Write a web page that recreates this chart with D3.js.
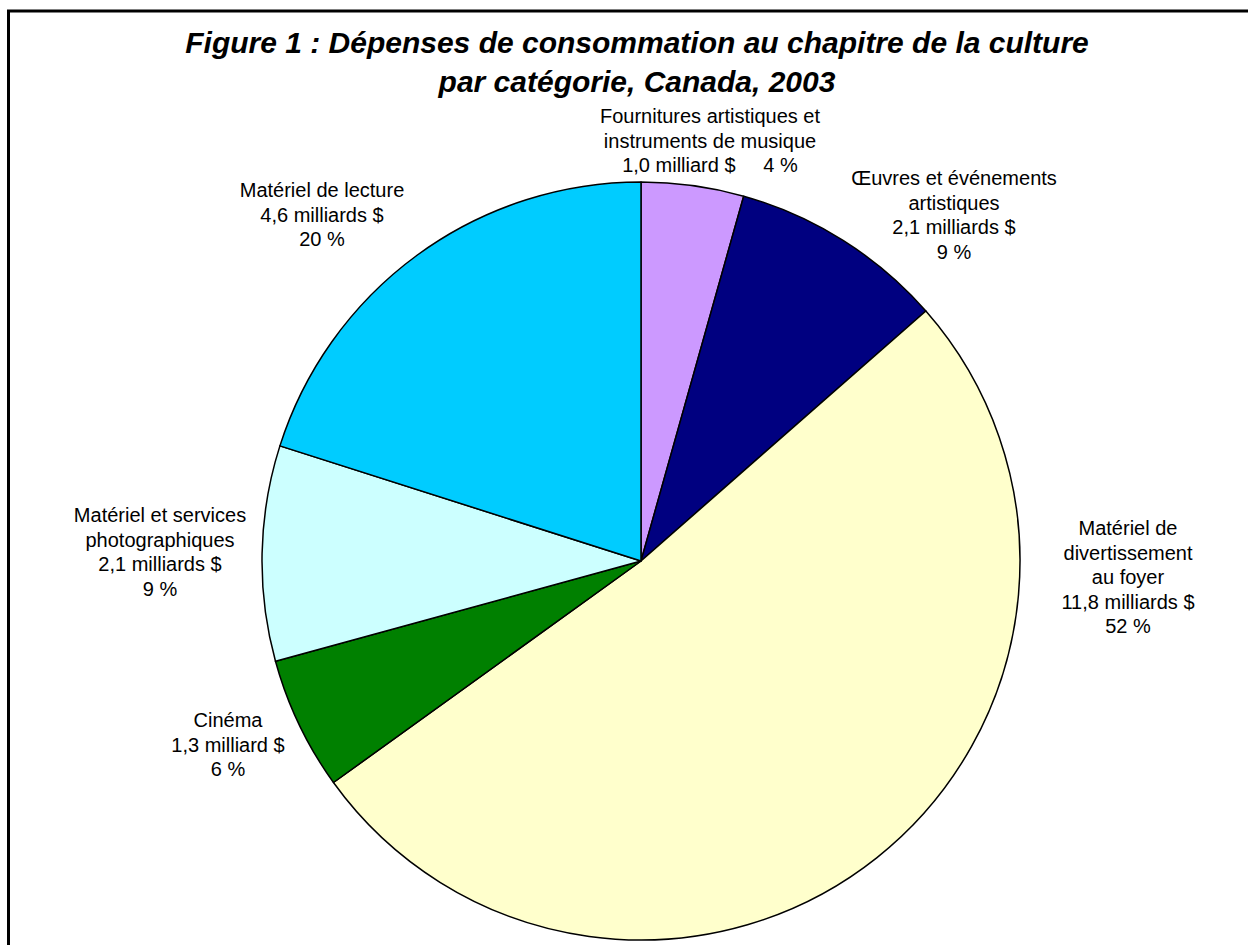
<!DOCTYPE html>
<html>
<head>
<meta charset="utf-8">
<script src="https://cdn.jsdelivr.net/npm/d3@7"></script>
<style>
  body { margin: 0; background: #fff; }
  text { font-family: "Liberation Sans", Arial, sans-serif; fill: #000; }
</style>
</head>
<body>
<div id="chart"></div>
<script>
// data (billions of dollars)
var categories = [
  ["Fournitures artistiques et", "instruments de musique"],
  ["Œuvres et événements", "artistiques"],
  ["Matériel de", "divertissement", "au foyer"],
  ["Cinéma"],
  ["Matériel et services", "photographiques"],
  ["Matériel de lecture"]
];
var values = [1.0, 2.1, 11.8, 1.3, 2.1, 4.6];
var amountLabels = ["1,0 milliard $", "2,1 milliards $", "11,8 milliards $", "1,3 milliard $", "2,1 milliards $", "4,6 milliards $"];
var percentLabels = ["4 %", "9 %", "52 %", "6 %", "9 %", "20 %"];
var colors = ["#CC99FF", "#000080", "#FFFFCC", "#008000", "#CCFFFF", "#00CCFF"];

var svgWidth = 1248;
var svgHeight = 945;

// label anchor (centre x, first baseline y) for each slice
var labelPos = [[710, 123], [954, 185], [1128, 535], [228, 727], [160, 522], [322, 197]];
var lineH = 24.5;

var svg = d3.select("#chart")
  .append("svg")
  .attr("width", svgWidth)
  .attr("height", svgHeight);

// frame (only top and left edges show in the picture)
svg.append("line")
  .attr("x1", 7).attr("y1", 11).attr("x2", svgWidth).attr("y2", 11)
  .attr("stroke", "#000").attr("stroke-width", 3);
svg.append("line")
  .attr("x1", 8.5).attr("y1", 10).attr("x2", 8.5).attr("y2", svgHeight)
  .attr("stroke", "#000").attr("stroke-width", 3);

// title
var title = svg.append("text")
  .attr("text-anchor", "middle")
  .style("font-size", "30px")
  .style("font-weight", "bold")
  .style("font-style", "italic");
title.append("tspan").attr("x", 637).attr("y", 53)
  .text("Figure 1 : Dépenses de consommation au chapitre de la culture");
title.append("tspan").attr("x", 637).attr("y", 92)
  .text("par catégorie, Canada, 2003");

// pie
var cx = 641, cy = 561, radius = 379;
var pie = d3.pie().sort(null).value(d => d);
var arc = d3.arc().innerRadius(0).outerRadius(radius);

var pieGroup = svg.append("g")
  .attr("transform", `translate(${cx}, ${cy})`);

pieGroup.selectAll("path")
  .data(pie(values))
  .enter()
  .append("path")
  .attr("d", arc)
  .attr("fill", (d, i) => colors[i])
  .attr("stroke", "#000")
  .attr("stroke-width", 1.5)
  .attr("stroke-linejoin", "round");

// labels
var labels = svg.selectAll(".slice-label")
  .data(values)
  .enter()
  .append("text")
  .attr("class", "slice-label")
  .attr("text-anchor", "middle")
  .style("font-size", "20px");

labels.each(function(d, i) {
  var t = d3.select(this);
  var lines = categories[i].slice();
  if (i === 0) {
    lines.push(amountLabels[i] + "\u00a0\u00a0\u00a0\u00a0\u00a0" + percentLabels[i]);
  } else {
    lines.push(amountLabels[i]);
    lines.push(percentLabels[i]);
  }
  lines.forEach(function(l, k) {
    t.append("tspan")
      .attr("x", labelPos[i][0])
      .attr("y", labelPos[i][1] + k * lineH)
      .text(l);
  });
});
</script>
</body>
</html>
